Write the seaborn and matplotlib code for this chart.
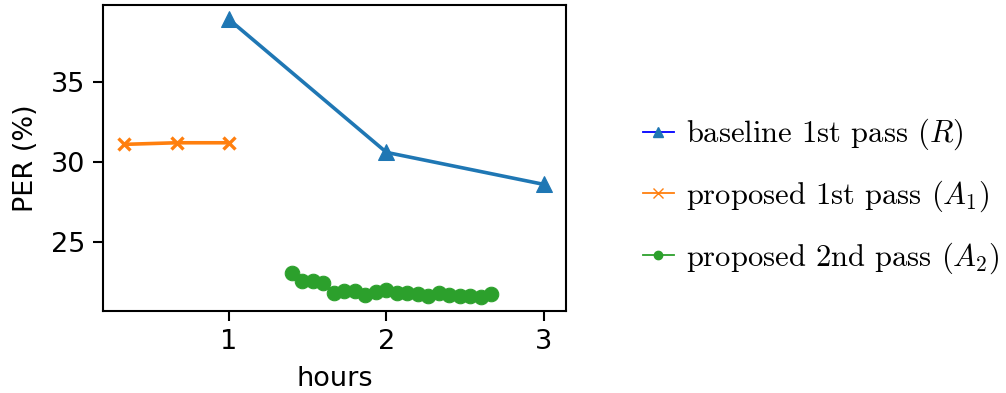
import matplotlib
matplotlib.use("Agg")
import matplotlib.pyplot as plt
from matplotlib.lines import Line2D
from matplotlib.font_manager import FontProperties
import seaborn as sns
import pandas as pd

baseline_hours = [1.0, 2.0, 3.0]
baseline_per = [38.9, 30.6, 28.6]

p1_hours = [1/3, 2/3, 1.0]
p1_per = [31.1, 31.2, 31.2]

p2_hours = [1.4 + i/15 for i in range(20)]
p2_per = [23.05, 22.6, 22.6, 22.45, 21.8, 21.95, 21.95, 21.7, 21.9, 22.0,
          21.8, 21.8, 21.75, 21.65, 21.85, 21.7, 21.65, 21.65, 21.6, 21.75]

legend_labels = ["baseline 1st pass ($R$)",
                 "proposed 1st pass ($A_1$)",
                 "proposed 2nd pass ($A_2$)"]

plt.rcParams["mathtext.fontset"] = "cm"
plt.rcParams["font.family"] = ["DejaVu Sans"]

fig = plt.figure(figsize=(10.06, 3.93), dpi=100)
ax = fig.add_axes([0.1024, 0.2087, 0.4602, 0.7786])

c_blue, c_orange, c_green = "#1f77b4", "#ff7f0e", "#2ca02c"

sns.lineplot(x=baseline_hours, y=baseline_per, ax=ax, color=c_blue, marker="^",
             markersize=11, markeredgecolor=c_blue, linewidth=2.6)
sns.lineplot(x=p1_hours, y=p1_per, ax=ax, color=c_orange, marker="x",
             markersize=9, markeredgewidth=2.4, markeredgecolor=c_orange, linewidth=2.6)
sns.lineplot(x=p2_hours, y=p2_per, ax=ax, color=c_green, marker="o",
             markersize=10.5, markeredgecolor=c_green, linewidth=2.6)

ax.set_xlim(0.2, 3.14)
ax.set_ylim(20.7, 39.8)
ax.set_xticks([1, 2, 3])
ax.set_yticks([25, 30, 35])
ax.tick_params(labelsize=19.5, length=7, width=1.5, pad=6)
for s in ax.spines.values():
    s.set_linewidth(1.5)
ax.set_xlabel("hours", fontsize=19.5, labelpad=8)
ax.set_ylabel("PER (%)", fontsize=19.5, labelpad=8)

handles = [
    Line2D([], [], color="blue", linewidth=1.3, marker="^", markersize=7,
           markerfacecolor=c_blue, markeredgecolor=c_blue),
    Line2D([], [], color=c_orange, linewidth=1.3, marker="x", markersize=7,
           markeredgecolor=c_orange),
    Line2D([], [], color=c_green, linewidth=1.3, marker="o", markersize=6,
           markerfacecolor=c_green, markeredgecolor=c_green),
]
fig.legend(handles, legend_labels, loc="center left", bbox_to_anchor=(0.612, 0.5),
           frameon=False, prop=FontProperties(family="cmr10", size=22),
           labelspacing=0.86, handlelength=1.0, handletextpad=0.4)

fig.savefig("out.png", dpi=100)
